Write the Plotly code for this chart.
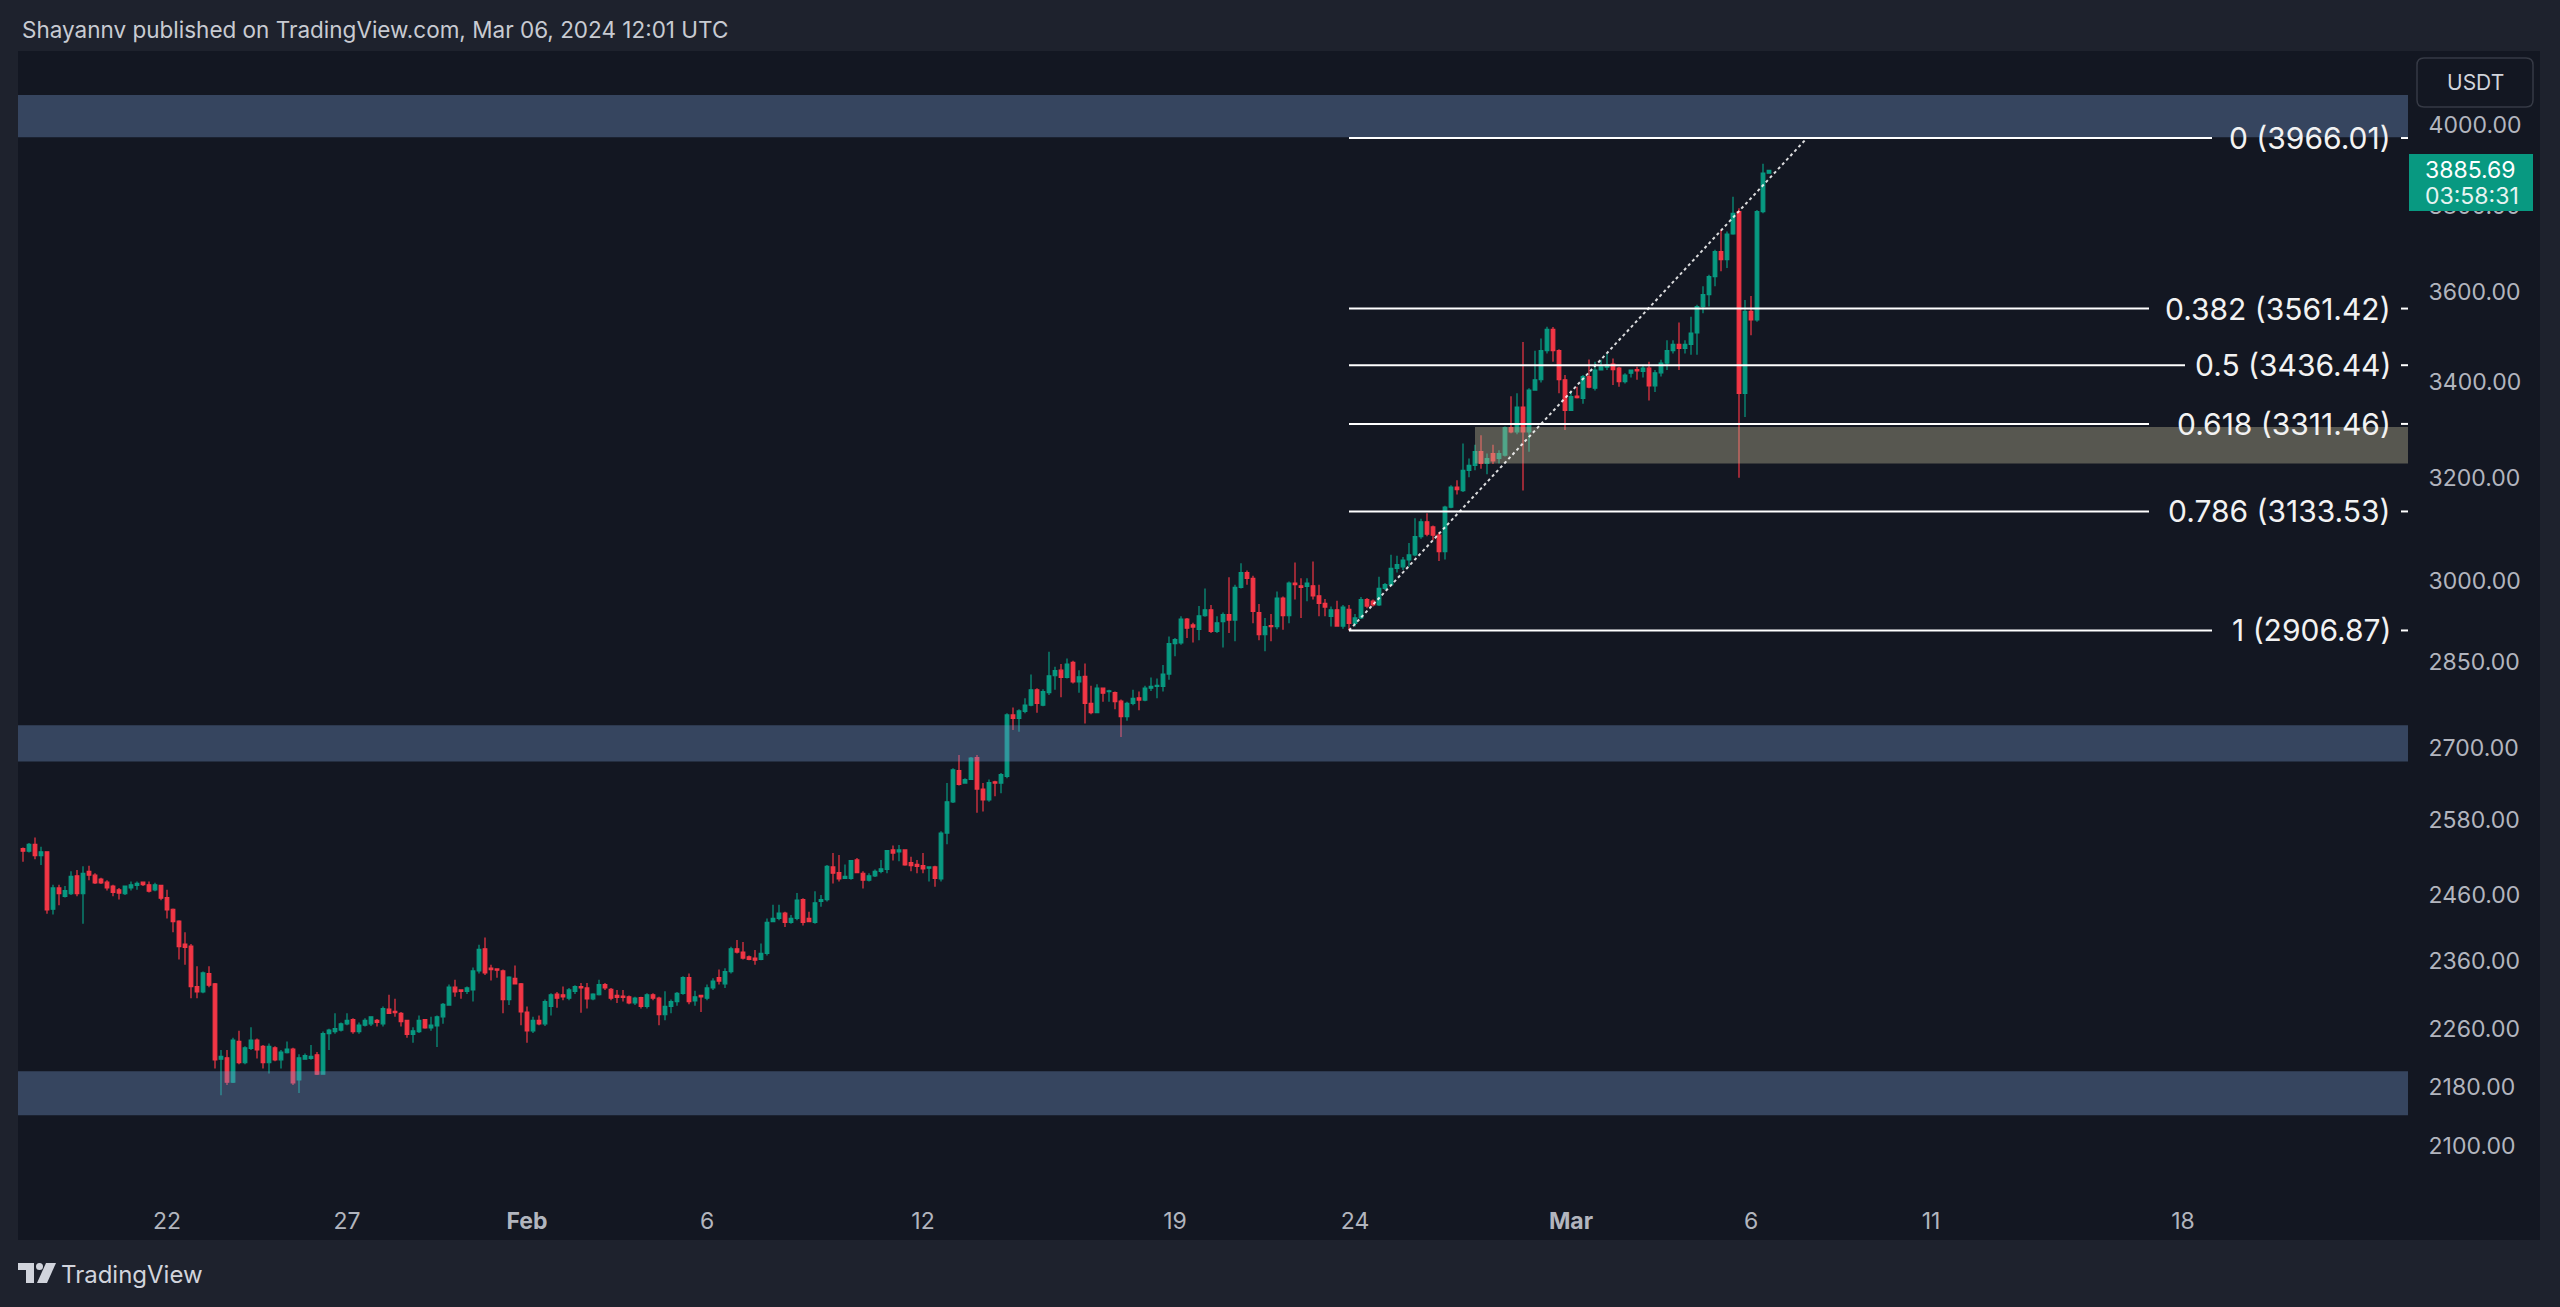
import math
import pandas as pd
import plotly.graph_objects as go

# ---------------- data (ETH/USDT, 4h candles) ----------------
first_candle = "2024-01-18 00:00"

opens = [
    2533, 2529, 2540, 2522, 2528, 2438, 2471, 2458, 2462, 2490, 2462, 2497,
    2491, 2485, 2480, 2474, 2468, 2462, 2471, 2475, 2480, 2476, 2468, 2475,
    2456, 2438, 2420, 2385, 2382, 2322, 2314, 2341, 2326, 2218, 2220, 2186,
    2243, 2213, 2233, 2245, 2236, 2213, 2234, 2217, 2227, 2232, 2189, 2218,
    2219, 2224, 2197, 2254, 2257, 2259, 2268, 2274, 2257, 2266, 2268, 2273,
    2268, 2289, 2286, 2283, 2273, 2253, 2257, 2274, 2262, 2265, 2278, 2295,
    2321, 2317, 2315, 2317, 2345, 2378, 2349, 2348, 2345, 2303, 2334, 2326,
    2285, 2258, 2273, 2268, 2293, 2311, 2310, 2305, 2315, 2322, 2320, 2304,
    2310, 2325, 2318, 2309, 2308, 2307, 2298, 2306, 2293, 2310, 2305, 2281,
    2293, 2300, 2312, 2335, 2301, 2309, 2305, 2320, 2335, 2326, 2344, 2378,
    2373, 2366, 2364, 2362, 2371, 2419, 2424, 2432, 2418, 2424, 2453, 2424,
    2418, 2450, 2453, 2504, 2495, 2486, 2486, 2515, 2494, 2483, 2490, 2497,
    2500, 2531, 2528, 2531, 2511, 2508, 2506, 2502, 2504, 2485, 2558, 2609,
    2661, 2640, 2646, 2683, 2630, 2612, 2642, 2640, 2651, 2756, 2750, 2762,
    2773, 2800, 2773, 2795, 2825, 2835, 2822, 2849, 2814, 2824, 2776, 2760,
    2803, 2797, 2795, 2780, 2753, 2776, 2786, 2782, 2803, 2806, 2806, 2828,
    2883, 2884, 2928, 2917, 2909, 2934, 2945, 2905, 2923, 2936, 2926, 2987,
    3015, 3004, 2940, 2899, 2916, 2914, 2967, 2934, 2995, 2990, 2989, 2990,
    2971, 2957, 2933, 2945, 2915, 2946, 2920, 2930, 2964, 2961, 2954, 2985,
    2992, 3023, 3026, 3039, 3049, 3084, 3113, 3103, 3087, 3055, 3142, 3182,
    3175, 3216, 3226, 3254, 3230, 3250, 3240, 3247, 3304, 3295, 3347, 3295,
    3383, 3405, 3468, 3515, 3468, 3405, 3340, 3370, 3365, 3412, 3387, 3426,
    3432, 3439, 3430, 3401, 3419, 3427, 3423, 3430, 3392, 3420, 3441, 3468,
    3482, 3473, 3482, 3507, 3566, 3593, 3634, 3692, 3673, 3733, 3786, 3376,
    3555, 3536, 3786, 3879,
]
highs = [
    2535, 2542, 2551, 2536, 2529, 2476, 2476, 2474, 2497, 2499, 2505, 2506,
    2494, 2487, 2483, 2476, 2471, 2475, 2481, 2481, 2481, 2481, 2479, 2476,
    2468, 2439, 2421, 2403, 2385, 2352, 2344, 2352, 2327, 2231, 2231, 2248,
    2258, 2236, 2263, 2247, 2238, 2240, 2236, 2231, 2243, 2234, 2225, 2226,
    2238, 2228, 2257, 2261, 2283, 2270, 2283, 2276, 2270, 2276, 2279, 2275,
    2293, 2310, 2304, 2285, 2274, 2263, 2280, 2275, 2278, 2280, 2298, 2325,
    2332, 2318, 2322, 2350, 2384, 2395, 2354, 2349, 2347, 2337, 2353, 2327,
    2293, 2278, 2280, 2303, 2312, 2314, 2322, 2320, 2324, 2327, 2327, 2312,
    2332, 2327, 2320, 2317, 2317, 2309, 2307, 2307, 2312, 2312, 2307, 2315,
    2303, 2314, 2337, 2341, 2316, 2310, 2325, 2334, 2347, 2349, 2381, 2391,
    2388, 2368, 2376, 2386, 2424, 2445, 2445, 2434, 2429, 2463, 2455, 2434,
    2466, 2460, 2507, 2526, 2523, 2508, 2515, 2518, 2497, 2494, 2500, 2515,
    2531, 2538, 2539, 2532, 2520, 2515, 2526, 2505, 2506, 2561, 2640, 2665,
    2687, 2648, 2684, 2687, 2640, 2646, 2644, 2657, 2759, 2769, 2766, 2785,
    2827, 2803, 2801, 2868, 2841, 2846, 2856, 2852, 2835, 2847, 2807, 2810,
    2804, 2800, 2797, 2783, 2779, 2800, 2797, 2807, 2822, 2820, 2844, 2896,
    2893, 2933, 2930, 2921, 2952, 2985, 2954, 2933, 2940, 3006, 2992, 3033,
    3019, 3009, 2956, 2930, 2937, 2979, 2970, 2998, 3034, 3004, 3004, 3036,
    2992, 2965, 2951, 2962, 2954, 2954, 2937, 2969, 2967, 2964, 3007, 2995,
    3049, 3047, 3045, 3072, 3120, 3119, 3130, 3106, 3093, 3145, 3186, 3196,
    3271, 3240, 3268, 3288, 3250, 3268, 3257, 3306, 3370, 3376, 3487, 3387,
    3468, 3495, 3521, 3520, 3471, 3415, 3379, 3390, 3415, 3449, 3444, 3448,
    3461, 3451, 3433, 3419, 3427, 3433, 3437, 3444, 3426, 3448, 3491, 3491,
    3530, 3491, 3543, 3570, 3612, 3638, 3696, 3743, 3739, 3822, 3794, 3581,
    3590, 3790, 3902, 3887,
]
lows = [
    2512, 2527, 2516, 2507, 2431, 2430, 2444, 2456, 2460, 2458, 2416, 2483,
    2477, 2477, 2467, 2458, 2453, 2460, 2467, 2468, 2474, 2464, 2466, 2452,
    2424, 2403, 2362, 2354, 2305, 2305, 2312, 2321, 2205, 2168, 2182, 2185,
    2211, 2211, 2231, 2219, 2205, 2198, 2215, 2205, 2226, 2182, 2171, 2217,
    2217, 2196, 2197, 2231, 2254, 2257, 2266, 2254, 2254, 2264, 2265, 2264,
    2264, 2283, 2278, 2264, 2248, 2241, 2255, 2261, 2258, 2235, 2268, 2294,
    2307, 2304, 2311, 2300, 2341, 2339, 2331, 2335, 2283, 2295, 2325, 2266,
    2241, 2255, 2266, 2265, 2280, 2291, 2302, 2302, 2311, 2284, 2290, 2302,
    2309, 2317, 2302, 2298, 2300, 2296, 2295, 2290, 2290, 2302, 2266, 2273,
    2283, 2294, 2310, 2296, 2294, 2285, 2302, 2317, 2325, 2320, 2341, 2371,
    2362, 2361, 2354, 2361, 2368, 2418, 2421, 2411, 2416, 2421, 2413, 2418,
    2416, 2442, 2450, 2478, 2481, 2485, 2484, 2494, 2470, 2481, 2488, 2494,
    2494, 2514, 2513, 2506, 2497, 2494, 2494, 2481, 2473, 2481, 2540, 2607,
    2636, 2639, 2645, 2591, 2593, 2609, 2618, 2623, 2648, 2730, 2727, 2759,
    2771, 2760, 2771, 2791, 2800, 2787, 2820, 2811, 2795, 2741, 2757, 2759,
    2779, 2779, 2766, 2718, 2746, 2773, 2764, 2780, 2798, 2785, 2797, 2818,
    2860, 2881, 2893, 2885, 2889, 2932, 2902, 2902, 2876, 2902, 2887, 2985,
    2992, 2920, 2889, 2869, 2887, 2909, 2908, 2920, 2964, 2930, 2961, 2964,
    2933, 2933, 2914, 2914, 2910, 2907, 2914, 2928, 2948, 2951, 2952, 2982,
    2990, 3015, 3020, 3026, 3046, 3080, 3085, 3077, 3037, 3040, 3140, 3167,
    3172, 3202, 3216, 3219, 3208, 3229, 3230, 3244, 3292, 3290, 3175, 3254,
    3382, 3399, 3462, 3444, 3376, 3299, 3339, 3365, 3354, 3387, 3382, 3426,
    3426, 3394, 3390, 3397, 3410, 3405, 3410, 3361, 3379, 3412, 3426, 3462,
    3426, 3462, 3459, 3459, 3551, 3566, 3612, 3646, 3654, 3731, 3201, 3326,
    3502, 3532, 3782, 3878,
]
closes = [
    2529, 2540, 2522, 2528, 2437, 2471, 2462, 2467, 2489, 2462, 2494, 2491,
    2479, 2479, 2471, 2464, 2463, 2474, 2476, 2478, 2476, 2466, 2476, 2455,
    2437, 2419, 2381, 2380, 2322, 2314, 2342, 2324, 2217, 2222, 2186, 2245,
    2213, 2234, 2245, 2231, 2213, 2236, 2217, 2228, 2232, 2185, 2220, 2223,
    2222, 2197, 2254, 2259, 2261, 2268, 2273, 2257, 2266, 2273, 2278, 2270,
    2290, 2283, 2284, 2271, 2253, 2258, 2273, 2262, 2266, 2278, 2296, 2321,
    2314, 2315, 2320, 2345, 2377, 2342, 2347, 2346, 2303, 2336, 2326, 2285,
    2258, 2273, 2268, 2300, 2310, 2305, 2307, 2317, 2322, 2320, 2304, 2311,
    2325, 2320, 2305, 2306, 2306, 2298, 2305, 2293, 2310, 2305, 2281, 2293,
    2300, 2312, 2335, 2300, 2307, 2307, 2320, 2330, 2330, 2344, 2378, 2373,
    2364, 2362, 2361, 2371, 2418, 2424, 2432, 2418, 2424, 2452, 2418, 2419,
    2448, 2453, 2505, 2494, 2485, 2489, 2514, 2495, 2483, 2490, 2497, 2501,
    2530, 2526, 2531, 2507, 2506, 2505, 2501, 2504, 2486, 2558, 2609, 2662,
    2638, 2646, 2682, 2630, 2612, 2641, 2640, 2654, 2756, 2750, 2763, 2773,
    2800, 2776, 2797, 2825, 2834, 2822, 2846, 2814, 2823, 2776, 2760, 2803,
    2794, 2798, 2779, 2753, 2776, 2785, 2782, 2803, 2806, 2808, 2828, 2883,
    2890, 2928, 2911, 2913, 2934, 2945, 2905, 2921, 2936, 2926, 2987, 3015,
    3004, 2942, 2899, 2914, 2914, 2967, 2934, 2995, 2992, 2987, 2995, 2971,
    2957, 2950, 2945, 2915, 2950, 2920, 2930, 2964, 2952, 2954, 2985, 2992,
    3023, 3030, 3039, 3049, 3084, 3113, 3089, 3087, 3055, 3142, 3182, 3177,
    3216, 3226, 3254, 3230, 3240, 3235, 3250, 3304, 3295, 3347, 3295, 3383,
    3405, 3468, 3515, 3468, 3405, 3340, 3369, 3367, 3412, 3389, 3426, 3433,
    3437, 3427, 3401, 3415, 3426, 3424, 3430, 3392, 3420, 3441, 3468, 3482,
    3473, 3482, 3507, 3566, 3593, 3634, 3692, 3673, 3733, 3782, 3376, 3555,
    3536, 3786, 3879, 3885.69,
]

last_price = 3885.69
countdown = "03:58:31"

fib_labels = ["0", "0.382", "0.5", "0.618", "0.786", "1"]
fib_prices = [3966.01, 3561.42, 3436.44, 3311.46, 3133.53, 2906.87]
fib_start = "2024-02-23 20:00"
fib_trend_end = "2024-03-07 13:20"

zones = [(3968, 4075), (2676, 2738), (2141, 2201)]
gray_zone = (3230, 3305)
gray_zone_start = "2024-02-27 08:00"

x_tick_dates = ["2024-01-22", "2024-01-27", "2024-02-01", "2024-02-06", "2024-02-12",
                "2024-02-19", "2024-02-24", "2024-03-01", "2024-03-06", "2024-03-11",
                "2024-03-18"]
x_tick_text = ["22", "27", "<b>Feb</b>", "6", "12", "19", "24", "<b>Mar</b>", "6", "11", "18"]
y_tick_values = [2100, 2180, 2260, 2360, 2460, 2580, 2700, 2850, 3000, 3200, 3400, 3600, 3800, 4000]

title_text = "Shayannv published on TradingView.com, Mar 06, 2024 12:01 UTC"

# ---------------- layout geometry (pixels) ----------------
W, H = 2560, 1307
L, R, T, B = 18, 2408, 51, 1190          # plot area
PANE_R, PANE_B = 2540, 1240
REF_DATE, REF_PX, DAY_PX = pd.Timestamp("2024-01-22 00:00"), 167, 36
REF_PRICE, REF_Y, PX_PER_LN = 4000.0, 124.5, 1585.0

OUTER_BG = "#1e222d"
PANE_BG = "#131722"
UP, DOWN = "#089981", "#f23645"
TICK_COLOR = "#b2b5be"
FONT = "Inter, Roboto, Arial, sans-serif"


def px(x):
    return (x - L) / (R - L)


def py(y):
    return (B - y) / (B - T)


def px_to_date(p):
    return (REF_DATE + pd.Timedelta(days=(p - REF_PX) / DAY_PX)).strftime("%Y-%m-%d %H:%M:%S")


def price_at(y):
    return REF_PRICE * math.exp(-(y - REF_Y) / PX_PER_LN)


times = pd.date_range(first_candle, periods=len(closes), freq="4h")

fig = go.Figure()
fig.add_trace(go.Candlestick(
    x=times, open=opens, high=highs, low=lows, close=closes,
    increasing=dict(line=dict(color=UP, width=1.2), fillcolor=UP),
    decreasing=dict(line=dict(color=DOWN, width=1.2), fillcolor=DOWN),
    whiskerwidth=0, hoverinfo="skip", showlegend=False,
))

shapes = []
# chart pane background
shapes.append(dict(type="rect", xref="paper", yref="paper", x0=px(L), x1=px(PANE_R),
                   y0=py(PANE_B), y1=py(T), fillcolor=PANE_BG, line=dict(width=0), layer="below"))

# horizontal zones
for lo, hi in zones:
    shapes.append(dict(type="rect", xref="paper", yref="y", x0=0, x1=1, y0=lo, y1=hi,
                       fillcolor="rgba(120,155,210,0.35)", line=dict(width=0), layer="above"))
shapes.append(dict(type="rect", xref="x", yref="y", x0=gray_zone_start, x1=px_to_date(R + 5),
                   y0=gray_zone[0], y1=gray_zone[1],
                   fillcolor="rgba(190,185,150,0.40)", line=dict(width=0), layer="above"))

# fib levels: line up to the label, short dash after it
fib_line_end_px = [2212, 2149, 2185, 2149, 2149, 2212]
for price, end_px in zip(fib_prices, fib_line_end_px):
    shapes.append(dict(type="line", xref="x", yref="y", x0=fib_start, x1=px_to_date(end_px),
                       y0=price, y1=price, line=dict(color="#ffffff", width=2), layer="above"))
    shapes.append(dict(type="line", xref="paper", yref="y", x0=px(2401), x1=1,
                       y0=price, y1=price, line=dict(color="#ffffff", width=2), layer="above"))

# fib trend line (dotted)
shapes.append(dict(type="line", xref="x", yref="y", x0=fib_start, x1=fib_trend_end,
                   y0=fib_prices[-1], y1=fib_prices[0],
                   line=dict(color="rgba(255,255,255,0.85)", width=2, dash="dot"), layer="above"))


# USDT button (rounded rect)
def rounded_rect(x0, y0, x1, y1, r):
    pts = [
        f"M {px(x0 + r)},{py(y0)}", f"L {px(x1 - r)},{py(y0)}",
        f"Q {px(x1)},{py(y0)} {px(x1)},{py(y0 + r)}", f"L {px(x1)},{py(y1 - r)}",
        f"Q {px(x1)},{py(y1)} {px(x1 - r)},{py(y1)}", f"L {px(x0 + r)},{py(y1)}",
        f"Q {px(x0)},{py(y1)} {px(x0)},{py(y1 - r)}", f"L {px(x0)},{py(y0 + r)}",
        f"Q {px(x0)},{py(y0)} {px(x0 + r)},{py(y0)}", "Z",
    ]
    return " ".join(pts)


shapes.append(dict(type="path", xref="paper", yref="paper", path=rounded_rect(2417, 58, 2533, 107, 7),
                   fillcolor=PANE_BG, line=dict(color="#363a45", width=1.5), layer="above"))


# TradingView logo
def poly(points):
    return "M " + " L ".join(f"{px(x)},{py(y)}" for x, y in points) + " Z"


LOGO = "#d1d4dc"
shapes.append(dict(type="path", xref="paper", yref="paper",
                   path=poly([(18, 1263), (34, 1263), (34, 1283), (26, 1283), (26, 1270), (18, 1270)]),
                   fillcolor=LOGO, line=dict(width=0), layer="above"))
shapes.append(dict(type="circle", xref="paper", yref="paper", x0=px(36), x1=px(43),
                   y0=py(1270), y1=py(1263), fillcolor=LOGO, line=dict(width=0), layer="above"))
shapes.append(dict(type="path", xref="paper", yref="paper",
                   path=poly([(46, 1263), (56, 1263), (47, 1283), (37, 1283)]),
                   fillcolor=LOGO, line=dict(width=0), layer="above"))

annotations = []
annotations.append(dict(text=title_text, xref="paper", yref="paper", x=px(20), y=py(29),
                        xanchor="left", yanchor="middle", showarrow=False,
                        font=dict(family=FONT, size=22.5, color="#c8cbd2")))
for lab, price in zip(fib_labels, fib_prices):
    annotations.append(dict(text=f"{lab} ({price:.2f})", xref="paper", yref="y", x=px(2391),
                            y=math.log10(price), xanchor="right", yanchor="middle", showarrow=False,
                            borderpad=0, borderwidth=0,
                            font=dict(family=FONT, size=30, color="#f2f2f2")))

# last price tag: teal box + two text lines
annotations.append(dict(text=" ", xref="paper", yref="y", x=px(2409), y=math.log10(last_price),
                        yshift=-12.5, xanchor="left", yanchor="middle", showarrow=False,
                        width=124, height=57, bgcolor=UP, borderpad=0, borderwidth=0,
                        font=dict(family=FONT, size=10, color=UP)))
annotations.append(dict(text=f"{last_price:.2f}", xref="paper", yref="y", x=px(2423),
                        y=math.log10(last_price), xanchor="left", yanchor="middle", showarrow=False,
                        font=dict(family=FONT, size=23, color="#ffffff")))
annotations.append(dict(text=countdown, xref="paper", yref="y", x=px(2423),
                        y=math.log10(last_price), yshift=-25.5, xanchor="left", yanchor="middle",
                        showarrow=False, font=dict(family=FONT, size=23, color="#e6f4f1")))
annotations.append(dict(text="USDT", xref="paper", yref="paper", x=px(2475), y=py(82.5),
                        xanchor="center", yanchor="middle", showarrow=False,
                        font=dict(family=FONT, size=21, color="#d1d4dc")))
annotations.append(dict(text="TradingView", xref="paper", yref="paper", x=px(59), y=py(1274),
                        xanchor="left", yanchor="middle", showarrow=False,
                        font=dict(family=FONT, size=24, color=LOGO)))

fig.update_layout(
    width=W, height=H, autosize=False,
    margin=dict(l=L, r=W - R, t=T, b=H - B, pad=0),
    paper_bgcolor=OUTER_BG, plot_bgcolor=PANE_BG,
    boxgap=0.4, boxgroupgap=0,
    shapes=shapes, annotations=annotations,
    showlegend=False, hovermode=False,
    xaxis=dict(
        type="date", range=[px_to_date(L), px_to_date(R)],
        tickmode="array", tickvals=x_tick_dates, ticktext=x_tick_text,
        ticks="outside", ticklen=10, tickcolor="rgba(0,0,0,0)",
        tickfont=dict(family=FONT, size=23, color=TICK_COLOR),
        showgrid=False, zeroline=False, showline=False,
        rangeslider=dict(visible=False), fixedrange=True,
    ),
    yaxis=dict(
        type="log", side="right",
        range=[math.log10(price_at(B)), math.log10(price_at(T))],
        tickmode="array", tickvals=y_tick_values, ticktext=[f"{v:.2f}" for v in y_tick_values],
        ticks="outside", ticklen=15, tickcolor="rgba(0,0,0,0)",
        tickfont=dict(family=FONT, size=23, color=TICK_COLOR),
        showgrid=False, zeroline=False, showline=False, fixedrange=True,
    ),
)

fig.write_html("out.html")
